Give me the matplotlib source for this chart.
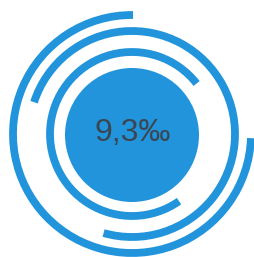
import matplotlib
matplotlib.use("Agg")
import matplotlib.pyplot as plt
from matplotlib.patches import Arc, Circle

# Data: each ring's arc as start angle and end angle (degrees, counter-clockwise)
ring_names = ["inner", "middle", "outer"]
ring_start_deg = [38, -106, 89.5]
ring_end_deg = [305, 162, 358]
value_label = "9,3\u2030"

# Layout
W, H = 254, 257
cx, cy = 132, 134
ring_radii = [82, 103, 119]
disc_r = 67
blue = "#2194db"
lw_px = 7.8

fig = plt.figure(figsize=(W / 100, H / 100), dpi=100)
ax = fig.add_axes([0, 0, 1, 1])
ax.set_xlim(0, W)
ax.set_ylim(0, H)
ax.set_aspect("equal")
ax.axis("off")

ccy = H - cy

ax.add_patch(Circle((cx, H - 135), disc_r, color=blue, lw=0))

lw_pt = lw_px * 72 / 100
for r, a0, a1 in zip(ring_radii, ring_start_deg, ring_end_deg):
    arc = Arc((cx, ccy), 2 * r, 2 * r, theta1=a0, theta2=a1,
              color=blue, lw=lw_pt, capstyle="butt")
    ax.add_patch(arc)

ax.text(cx + 0.5, H - 133, value_label, ha="center", va="center",
        fontsize=23, color="#3a4652", family=["Liberation Sans", "DejaVu Sans"])

fig.savefig("out.png", dpi=100)
